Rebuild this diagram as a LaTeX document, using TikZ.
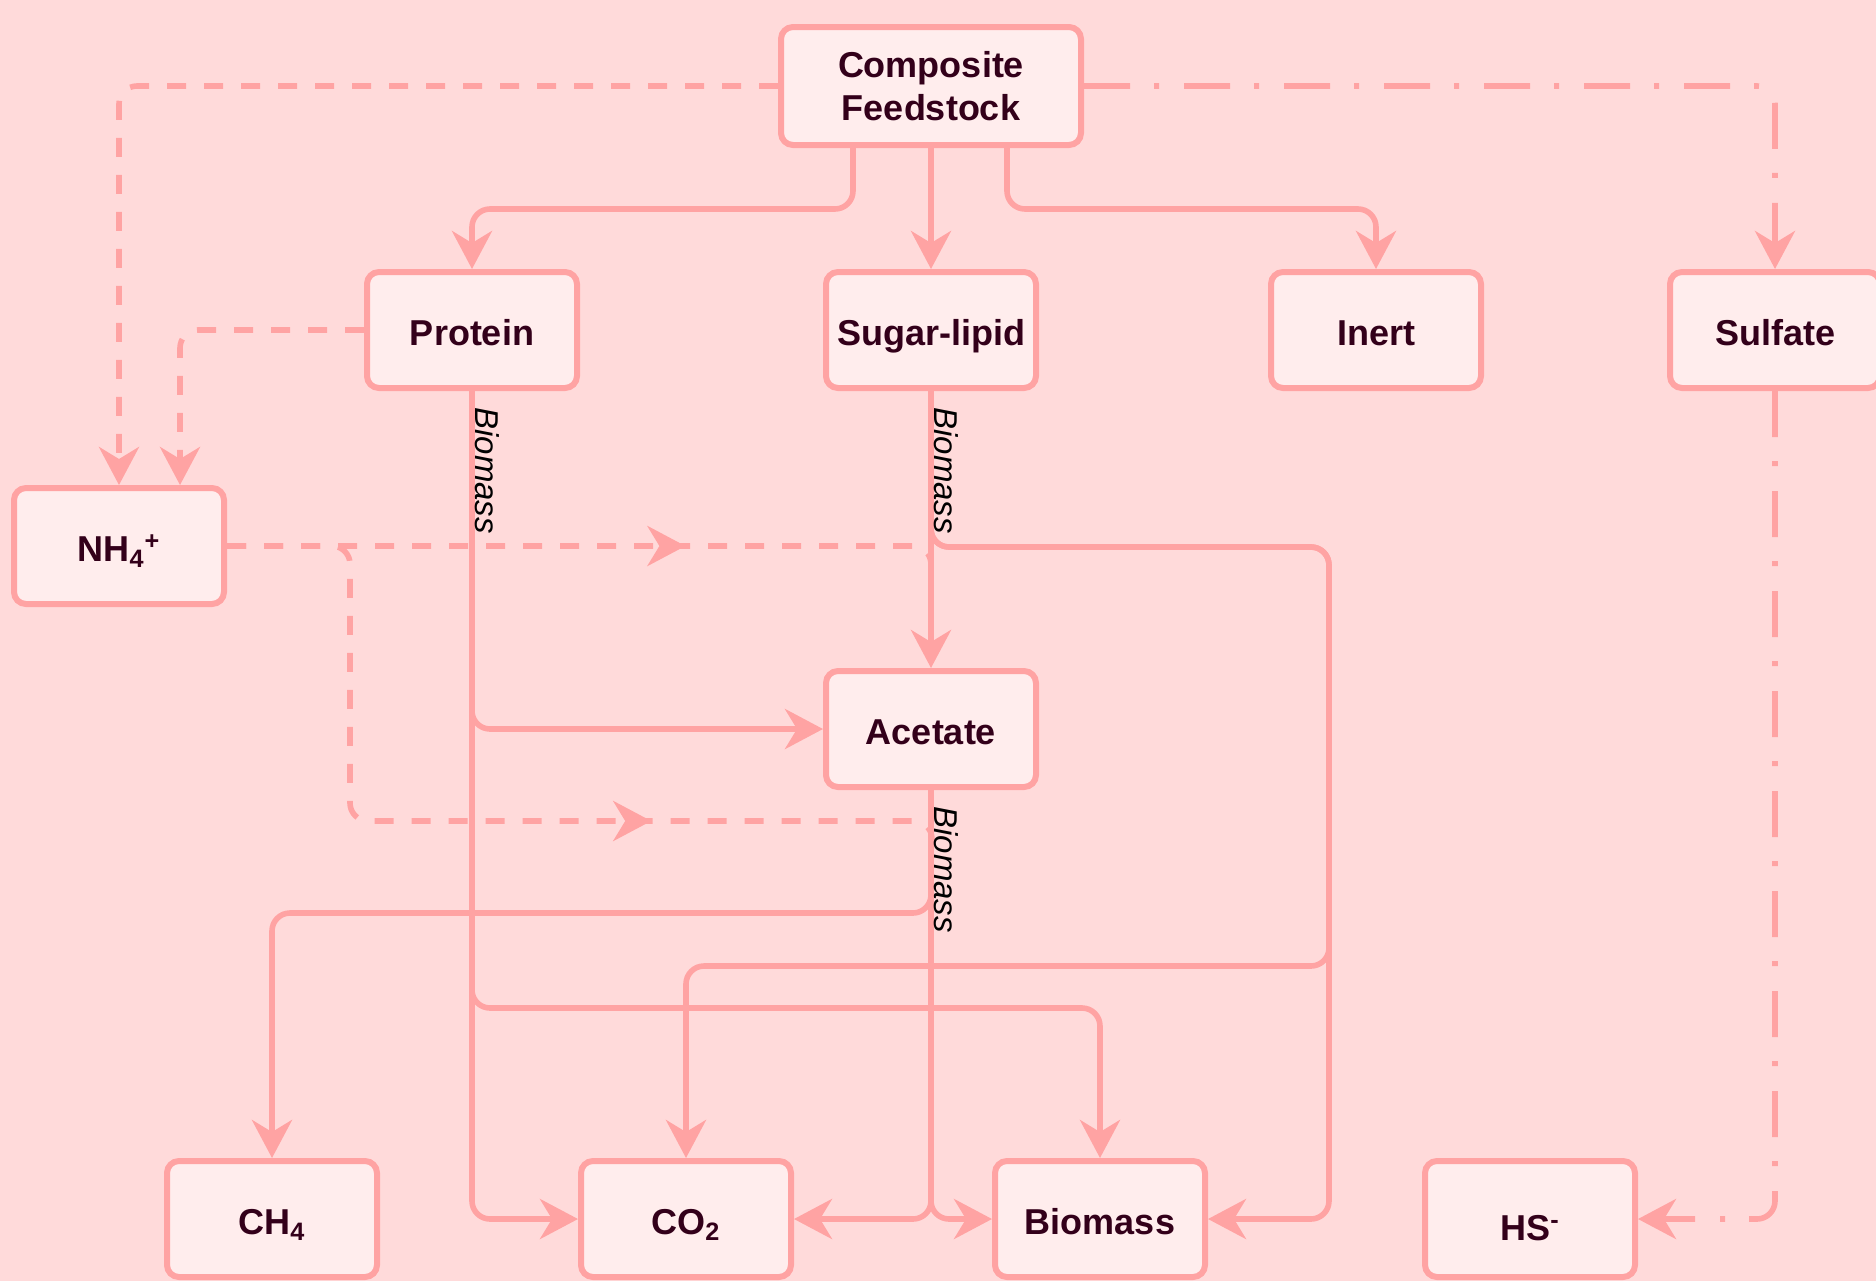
\documentclass[tikz,border=0pt]{standalone}
\usepackage{fontspec}
\setmainfont{Liberation Sans}
\usepackage{tikz}
\usetikzlibrary{positioning,arrows.meta,decorations.markings}

\definecolor{bgpink}{HTML}{FFDADA}
\definecolor{boxfill}{HTML}{FFEDED}
\definecolor{linepink}{HTML}{FFA3A3}
\definecolor{textmaroon}{HTML}{33001A}

\tikzset{
  species/.style={draw=linepink, fill=boxfill, line width=3pt, rounded corners=6pt,
    minimum width=105pt, minimum height=58pt, text=textmaroon, align=center,
    font=\fontsize{18}{21.5}\selectfont\bfseries},
  onerow/.style={species, text height=15.6pt, text depth=0pt},
  link/.style={draw, color=linepink, line width=2.8pt, rounded corners=9pt},
  flow/.style={link, ->},
  dashline/.style={link, dash pattern=on 9.5pt off 9pt},
  dashflow/.style={dashline, ->},
  dotflow/.style={link, ->, dash pattern=on 23pt off 12pt on 2.5pt off 12.5pt},
  midarrow/.style={postaction={decorate, decoration={markings,
    mark=at position #1 with {\pgfsetdash{}{0pt}\arrow{>}}}}},
  biolabel/.style={rotate=-90, anchor=south west, inner sep=1.5pt, text=black,
    font=\fontsize{16.5}{18}\selectfont\itshape}
}

\begin{document}
\begin{tikzpicture}[x=0.5pt,y=-0.5pt,on grid,>={Stealth[length=19pt,width=20pt,inset=6pt]}]
  \useasboundingbox (0,0) rectangle (1876,1281);
  \fill[bgpink] (0,0) rectangle (1876,1281);

  \node[species, minimum width=150pt, minimum height=59pt] (comp) at (931,86) {Composite\\Feedstock};
  \node[onerow] (sugar) [below=122pt of comp] {Sugar-lipid};
  \node[onerow] (protein) [left=229.5pt of sugar] {Protein};
  \node[onerow] (inert) [right=222.5pt of sugar] {Inert};
  \node[onerow] (sulfate) [right=199.5pt of inert] {Sulfate};
  \node[onerow] (nh4) [below left=108pt and 176.5pt of protein] {NH\textsubscript{4}\textsuperscript{+}};
  \node[onerow] (acetate) [below=199.5pt of sugar] {Acetate};
  \node[onerow] (co2) [below left=245pt and 122.5pt of acetate] {CO\textsubscript{2}};
  \node[onerow] (ch4) [left=207pt of co2] {CH\textsubscript{4}};
  \node[onerow] (biomass) [right=207pt of co2] {Biomass};
  \node[onerow, text height=21.6pt] (hs) [right=215pt of biomass] {HS\textsuperscript{-}};

  \draw[flow] ([xshift=-39pt]comp.south) -- ++(0,61) -| (protein.north);
  \draw[flow] (comp) -- (sugar);
  \draw[flow] ([xshift=38pt]comp.south) -- ++(0,61) -| (inert.north);
  \draw[dashflow] (comp.west) -| (nh4.north);
  \draw[dotflow] (comp.east) -| (sulfate.north);
  \draw[dashflow] (protein.west) -| ([xshift=30.5pt]nh4.north);

  \draw[dashline, midarrow=0.64] (nh4.east) -- (sugar.south |- nh4.east) -- ++(0,20);
  \draw[dashline, midarrow=0.70] (nh4.east) -- ++(123,0) -- ++(0,275) -- ++(582,0) -- ++(0,20);

  \draw[flow] (protein.south) |- (acetate.west);
  \draw[flow] (protein.south) -- ++(0,617) -| (biomass.north);
  \draw[flow] (protein.south) |- (co2.west);

  \draw[flow] (sugar) -- (acetate);
  \draw[flow] (sugar.south) -- ++(0,156) -- ++(398,0) |- (biomass.east);
  \draw[flow] (sugar.south) -- ++(0,156) -- ++(398,0) -- ++(0,419) -| (co2.north);

  \draw[flow] (acetate.south) -- ++(0,123) -| (ch4.north);
  \draw[flow] (acetate.south) |- (co2.east);
  \draw[flow] (acetate.south) |- (biomass.west);

  \draw[dotflow] (sulfate.south) |- (hs.east);

  \node[biolabel] (bioprot) at ([yshift=-6.5pt]protein.south) {Biomass};
  \node[biolabel] (biosugar) at ([yshift=-6.5pt]sugar.south) {Biomass};
  \node[biolabel] (bioacet) at ([yshift=-6.5pt]acetate.south) {Biomass};
\end{tikzpicture}
\end{document}
